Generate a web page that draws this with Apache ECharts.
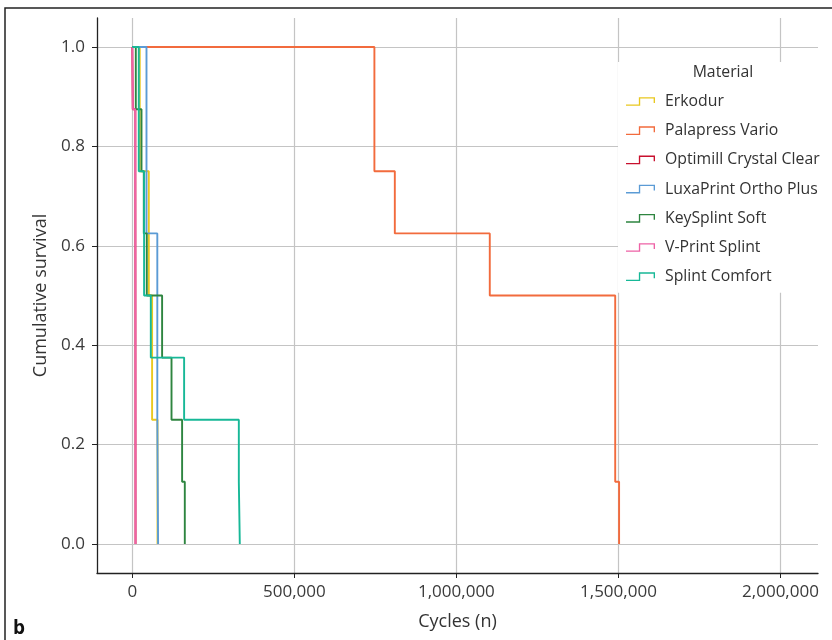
<!DOCTYPE html>
<html>
<head>
<meta charset="utf-8">
<script src="https://cdn.jsdelivr.net/npm/echarts@6/dist/echarts.min.js"></script>
<style>
html,body{margin:0;padding:0;background:#fff;}
#chart{width:832px;height:640px;}
</style>
</head>
<body>
<div id="chart"></div>
<script>
// Kaplan-Meier step data: [cycles, cumulative survival]
const materials = ['Erkodur','Palapress Vario','Optimill Crystal Clear','LuxaPrint Ortho Plus','KeySplint Soft','V-Print Splint','Splint Comfort'];
const colors = ['#E9C81F','#F26B3D','#C8102E','#5B9BD5','#2E8540','#EE62A6','#17B897'];

const erkodur   = [[0,1],[23000,0.75],[50900,0.5],[61100,0.25],[77800,0]];
const palapress = [[0,1],[747000,0.75],[810000,0.625],[1103000,0.5],[1490000,0.125],[1502000,0]];
const optimill  = [[0,1],[1500,0.875],[9500,0.625],[10000,0]];
const luxaprint = [[0,1],[43800,0.625],[77200,0.25],[79600,0]];
const keysplint = [[0,1],[10800,0.875],[28400,0.75],[35500,0.625],[44700,0.5],[92000,0.375],[121000,0.25],[153700,0.125],[162000,0]];
const vprint    = [[0,1],[1500,0.875],[9000,0.75],[9500,0.625],[10000,0]];
const splintComfort = [[0,1],[20000,0.75],[36400,0.5],[57100,0.375],[159900,0.25],[328700,0.125],[331700,0]];

const seriesData = [erkodur, palapress, optimill, luxaprint, keysplint, vprint, splintComfort];

const xTicks = [0, 500000, 1000000, 1500000, 2000000];
const yTicks = [0, 0.2, 0.4, 0.6, 0.8, 1.0];

const FONT = 'Open Sans';
const chart = echarts.init(document.getElementById('chart'), null, {renderer:'canvas'});

const stepIcon = 'path://M0,7.6 H13.3 V0 H30 V6 H28.6 V1.4 H14.7 V9 H0 Z';

chart.setOption({
  animation: false,
  backgroundColor: '#fff',
  color: colors,
  grid: {left: 97, top: 18, right: 14, bottom: 67, containLabel: false, outerBoundsMode: 'none'},
  xAxis: {
    type: 'value',
    min: -108900, max: 2115700,
    interval: 500000,
    name: 'Cycles (n)', nameLocation: 'middle', nameGap: 40,
    nameTextStyle: {fontFamily: FONT, fontSize: 18, color: '#333'},
    axisLine: {show: true, onZero: false, lineStyle: {color: '#222', width: 1.3}},
    axisTick: {show: true, length: 5, lineStyle: {color: '#222'}, customValues: xTicks},
    axisLabel: {fontFamily: FONT, fontSize: 17, color: '#3a3a3a', margin: 11, customValues: xTicks,
      formatter: v => v.toLocaleString('en-US')},
    splitLine: {show: true, lineStyle: {color: '#c4c4c4', width: 1.2}},
    minorTick: {show: false}
  },
  yAxis: {
    type: 'value',
    min: -0.0585, max: 1.0585,
    name: 'Cumulative survival', nameLocation: 'middle', nameGap: 47,
    nameTextStyle: {fontFamily: FONT, fontSize: 18, color: '#333'},
    axisLine: {show: true, onZero: false, lineStyle: {color: '#222', width: 1.3}},
    axisTick: {show: true, length: 5, lineStyle: {color: '#222'}, customValues: yTicks},
    axisLabel: {fontFamily: FONT, fontSize: 17, color: '#3a3a3a', margin: 12, customValues: yTicks,
      formatter: v => v.toFixed(1)},
    splitLine: {show: true, lineStyle: {color: '#c4c4c4', width: 1.2}}
  },
  legend: {
    orient: 'vertical',
    left: 618, top: 62,
    backgroundColor: '#fff',
    padding: [31.5, 15, 8, 8],
    itemWidth: 29, itemHeight: 9,
    itemGap: 13.2,
    icon: stepIcon,
    data: materials,
    textStyle: {fontFamily: FONT, fontSize: 15.8, color: '#333', lineHeight: 15, padding: [0,0,0,5]}
  },
  graphic: [
    {type: 'text', z: 100, x: 723, y: 72,
      style: {text: 'Material', fontFamily: FONT, fontSize: 15.8, fill: '#333', align: 'center', verticalAlign: 'middle'}},
    {type: 'rect', z: 100, shape: {x: 5, y: 8, width: 900, height: 700},
      style: {fill: 'none', stroke: '#222', lineWidth: 1.5}},
    {type: 'text', z: 100, x: 13, y: 629,
      style: {text: 'b', fontFamily: FONT, fontSize: 19, fontWeight: 'bold', fill: '#111', verticalAlign: 'middle'}}
  ],
  series: seriesData.map((d, i) => ({
    name: materials[i],
    type: 'line',
    step: 'end',
    data: d,
    showSymbol: false,
    symbol: 'none',
    color: colors[i],
    lineStyle: {width: 1.9, color: colors[i]},
    itemStyle: {color: colors[i]},
    emphasis: {disabled: true}
  }))
});
</script>
</body>
</html>
